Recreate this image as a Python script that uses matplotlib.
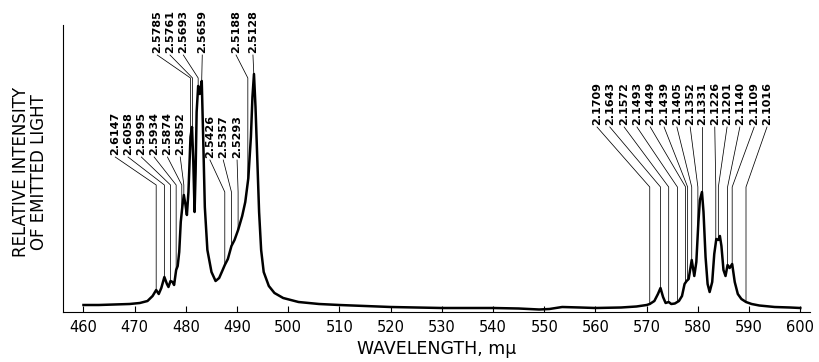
import numpy as np
import matplotlib.pyplot as plt

# emission curve, wavelength (m-mu) and height above the axis (arbitrary units)
wl = [460.0, 463, 466, 469, 471, 472.5, 473.5, 474.2, 474.7, 475.2, 475.8, 476.3, 476.6,
      477.0, 477.4, 477.7, 478.1, 478.4, 478.7, 479.0, 479.3, 479.6, 479.9, 480.2, 480.5,
      480.9, 481.2, 481.45, 481.7, 481.9, 482.1, 482.4, 482.7, 483.1, 483.4, 483.7, 484.2,
      485.0, 485.8, 486.5, 487.1, 487.6, 488.2, 488.9, 489.5, 490.2, 491.0, 491.6, 492.2,
      492.7, 493.0, 493.3, 493.6, 493.9, 494.3, 494.7, 495.2, 496.2, 497.3, 499, 502, 506,
      510, 520, 530, 540, 545, 549, 551, 553.5, 557, 560, 565, 568, 570,
      570.6, 571.5, 572.2, 572.7, 573.2, 573.7, 574.3, 574.8, 575.5, 576.3, 576.9, 577.4,
      577.8, 578.2, 578.8, 579.3, 579.7, 580.1, 580.4, 580.8, 581.1, 581.5, 581.9, 582.3,
      582.8, 583.2, 583.6, 584.0, 584.3, 584.6, 585.0, 585.4, 585.8, 586.2, 586.7, 587.2,
      587.8, 588.5, 589.4, 590.5, 592, 595, 598, 600]
inten = [7, 7, 7.5, 8, 9, 11, 16, 22, 18, 24, 35, 28, 25,
         31, 30, 27, 42, 46, 60, 90, 105, 117, 108, 97, 120,
         175, 185, 150, 100, 140, 200, 226, 218, 231, 170, 105, 62,
         40, 31, 34, 41, 47, 53, 66, 72, 82, 96, 110, 134,
         175, 215, 238, 205, 160, 100, 62, 40, 26, 19, 14, 10, 8,
         7, 5, 4, 4, 3.5, 2.5, 3, 5, 4.5, 4, 4.5, 5.5, 7,
         8, 11, 18, 24, 15, 9, 10, 8, 8.5, 11, 16, 28,
         31, 33, 52, 36, 50, 90, 112, 120, 100, 55, 28, 20,
         30, 58, 73, 72, 76, 66, 42, 36, 47, 44, 48, 30,
         18, 13, 10, 8, 6.5, 5, 4.5, 4]

# peak labels (eV), where the label sits and where its line meets the curve
lab_a = ['2.6147', '2.6058', '2.5995', '2.5934', '2.5874', '2.5852']
lab_a_x = [466.2, 468.7, 471.3, 473.8, 476.4, 478.9]
line_a = [474.2, 475.8, 477.0, 478.1, 479.2, 479.6]

lab_b = ['2.5785', '2.5761', '2.5693', '2.5659', '2.5188', '2.5128']
lab_b_x = [474.4, 476.9, 479.5, 483.2, 489.8, 493.1]
line_b = [480.9, 481.3, 482.4, 483.1, 492.1, 493.3]

lab_c = ['2.5426', '2.5357', '2.5293']
lab_c_x = [484.7, 487.3, 490.0]
line_c = [487.6, 488.9, 490.2]

lab_d = ['2.1709', '2.1643', '2.1572', '2.1493', '2.1449', '2.1439', '2.1405',
         '2.1352', '2.1331', '2.1226', '2.1201', '2.1140', '2.1109', '2.1016']
lab_d_x = [560.3, 562.8, 565.6, 568.1, 570.7, 573.4, 575.9,
           578.5, 580.8, 583.3, 585.7, 588.2, 591.0, 593.5]
line_d = [570.6, 572.7, 574.3, 576.0, 577.6, 578.0, 578.8,
          580.0, 580.8, 583.5, 584.0, 585.8, 586.7, 589.4]

ticks = list(range(460, 601, 10))

fig = plt.figure(figsize=(8.2, 3.62), dpi=100)
ax = fig.add_axes([63/820, 1-312/362, 747/820, 287/362])
ax.plot(wl, inten, color='black', lw=1.8, solid_joinstyle='round')
ax.set_xlim(456.0, 601.9)
ax.set_ylim(0, 287)

for s in ['top', 'right']:
    ax.spines[s].set_visible(False)
for s in ['left', 'bottom']:
    ax.spines[s].set_linewidth(0.8)
ax.set_yticks([])
ax.set_xticks(ticks)
ax.tick_params(axis='x', direction='in', length=4, width=0.8, labelsize=10.5, pad=6)


def labels(names, lx, lines, bottom, bend):
    for n, x0, x1 in zip(names, lx, lines):
        top = np.interp(x1, wl, inten)
        ax.plot([x0, x1, x1], [bottom - 2, bend, top], color='black', lw=0.55,
                clip_on=False)
        ax.text(x0, bottom, n, rotation=90, ha='center', va='bottom', fontsize=8,
                fontweight='bold', clip_on=False)


labels(lab_a, lab_a_x, line_a, 157, 127)
labels(lab_b, lab_b_x, line_b, 259, 234)
labels(lab_c, lab_c_x, line_c, 154, 120)
labels(lab_d, lab_d_x, line_d, 187, 125)

ax.set_xlabel('WAVELENGTH, m\u03bc', fontsize=12.5, labelpad=3)
fig.text(30/820, 1-172/362, 'RELATIVE INTENSITY\nOF EMITTED LIGHT', rotation=90,
         ha='center', va='center', fontsize=12, linespacing=1.0)

fig.savefig('out.png', dpi=100)
